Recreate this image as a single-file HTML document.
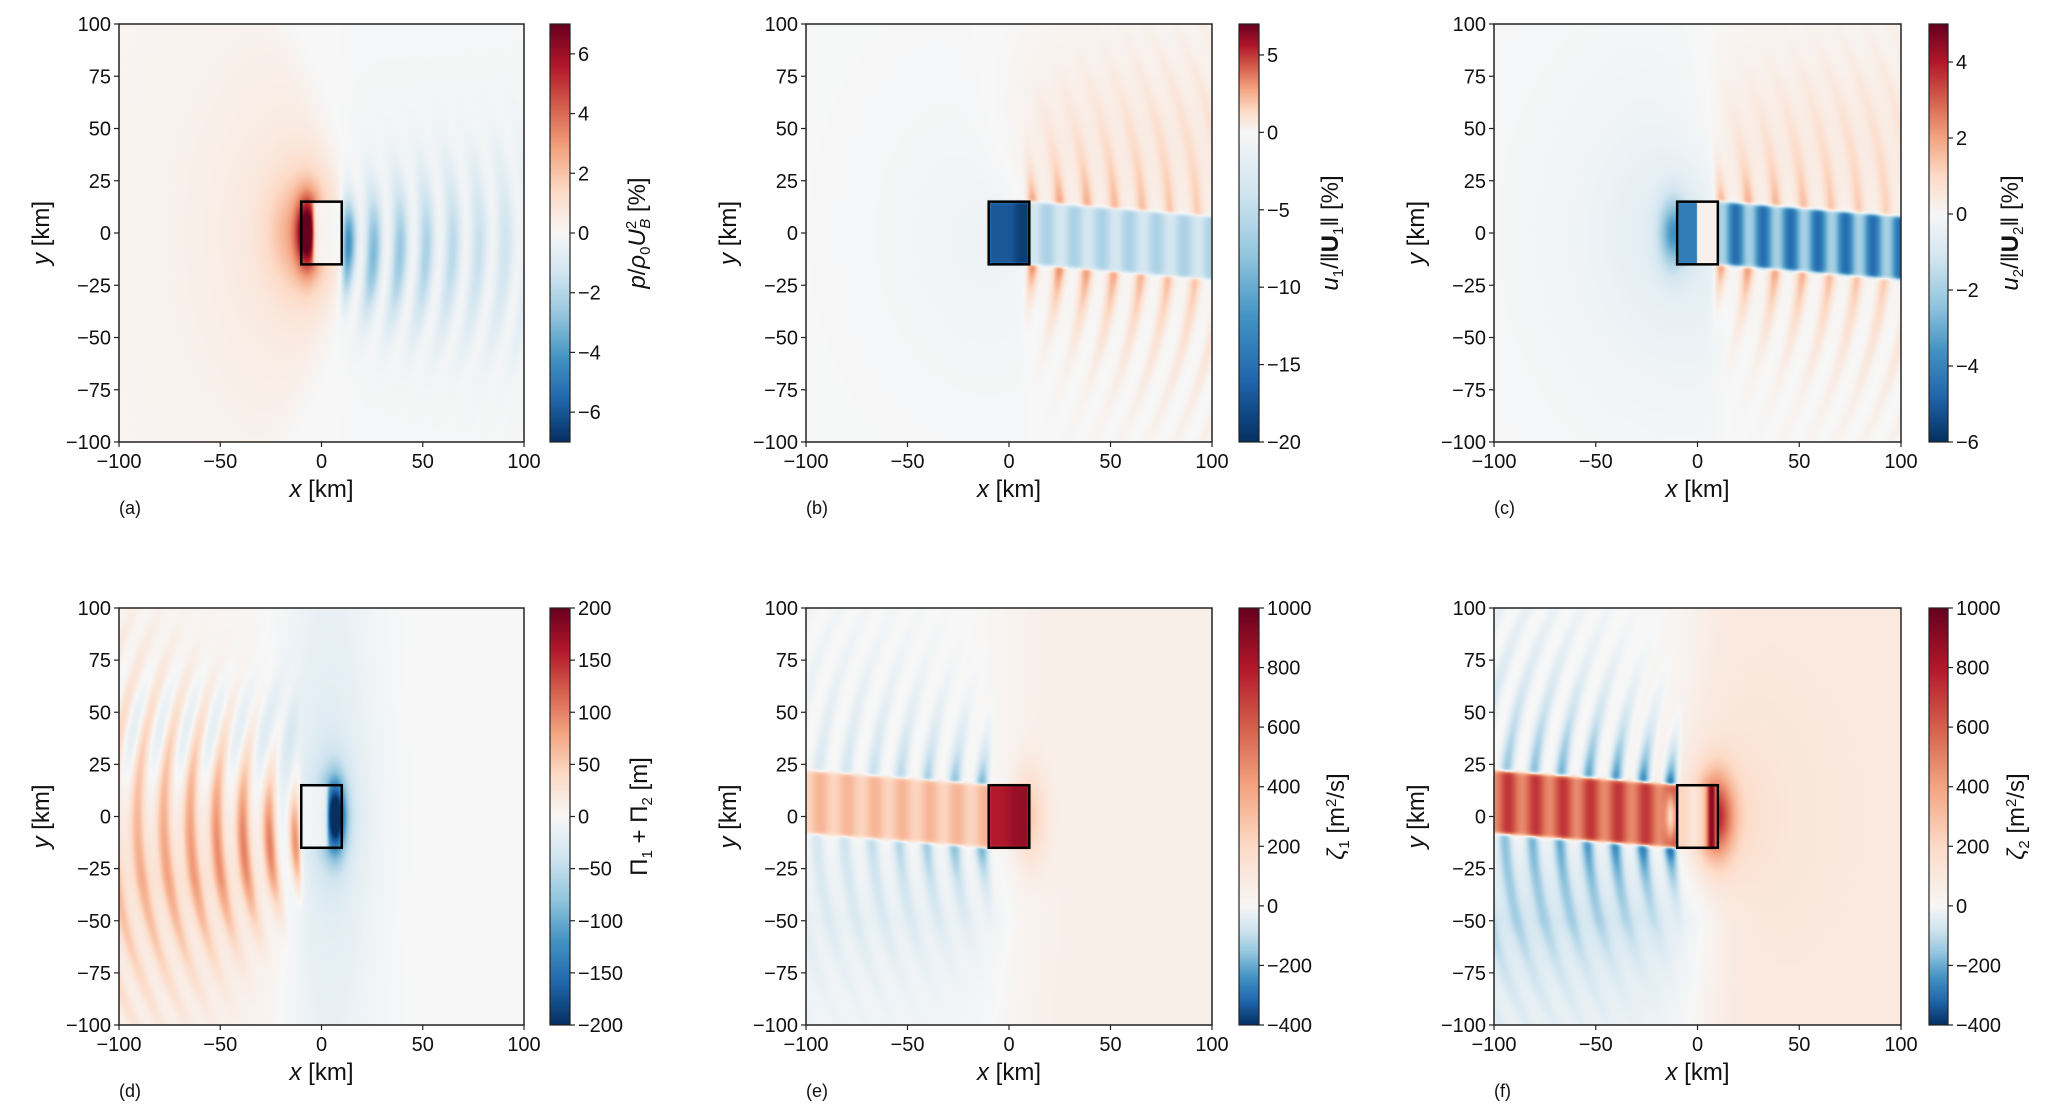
<!DOCTYPE html>
<html><head><meta charset="utf-8">
<style>
html,body{margin:0;padding:0;background:#fff;}
#fig{position:relative;width:2067px;height:1109px;overflow:hidden;font-family:"Liberation Sans",sans-serif;}
canvas{position:absolute;}
svg{position:absolute;left:0;top:0;}
</style></head>
<body>
<div id="fig"></div>
<script>
// ---- data ----
const xTicks=[-100,-50,0,50,100];
const yTicks=[-100,-75,-50,-25,0,25,50,75,100];
const panelLetters=["(a)","(b)","(c)","(d)","(e)","(f)"];
const cbarMin=[-7,-20,-6,-200,-400,-400];
const cbarMax=[7,7,5,200,1000,1000];
const cbarTicksA=[-6,-4,-2,0,2,4,6];
const cbarTicksB=[-20,-15,-10,-5,0,5];
const cbarTicksC=[-6,-4,-2,0,2,4];
const cbarTicksD=[-200,-150,-100,-50,0,50,100,150,200];
const cbarTicksE=[-400,-200,0,200,400,600,800,1000];
const cbarTicksF=[-400,-200,0,200,400,600,800,1000];
const cbarTicks=[cbarTicksA,cbarTicksB,cbarTicksC,cbarTicksD,cbarTicksE,cbarTicksF];
// feature amplitudes (normalised)
const boxAmp=[0.85,-0.85,-0.6,-0.85,0.85,0.9];
const bandAmp=[0,-0.25,-0.55,0.35,0.28,0.6];
const waveAmp=[-0.5,0.55,0.5,0.55,-0.55,-0.85];
const broadAmp=[0.14,-0.08,-0.2,-0.15,0.06,0.1];
const waveLen=[13,13.5,13.5,13,13.5,13.5];

// ---- layout ----
const colX=[[119,524,550,570,645],[806,1212,1239,1259,1338],[1494,1901,1929,1948,2018]];
const rowY=[[24,442],[608,1025]];
const fig=document.getElementById('fig');
const NS="http://www.w3.org/2000/svg";
const svg=document.createElementNS(NS,'svg');
svg.setAttribute('width',2067);svg.setAttribute('height',1109);



const stops=[[5,48,97],[33,102,172],[67,147,195],[146,197,222],[209,229,240],[247,247,247],[253,219,199],[244,165,130],[214,96,77],[178,24,43],[103,0,31]];
function cmap(t){t=Math.max(0,Math.min(1,t))*10;const i=Math.min(9,Math.floor(t)),f=t-i;const a=stops[i],b=stops[i+1];return [a[0]+(b[0]-a[0])*f,a[1]+(b[1]-a[1])*f,a[2]+(b[2]-a[2])*f];}
const sm=(e,w)=>0.5+0.5*Math.tanh(e/w);
const C=Math.PI*2;

function field(k,x,y){
  let v=0;const inBox=sm(x+10,0.6)*sm(10-x,0.6)*sm(y+15,0.6)*sm(15-y,0.6);
  const wl=waveLen[k];
  if(k===0){
    const r=Math.hypot((x+15)/1.0,y/1.7);
    v+=broadAmp[0]*Math.exp(-r/55)*sm(8-x-0.003*y*y,6);
    v+=boxAmp[0]*Math.exp(-((x+7)**2)/25-y*y/260);
    v+=0.3*Math.exp(-((x+9)**2)/250-y*y/800);
    if(x>4){const p=x+0.0025*y*y;const env=Math.exp(-((y+10)**2)/(400+18*x))*sm(x-10,2)*Math.exp(-(x-12)/70);
      v+=waveAmp[0]*env*(0.5+0.5*Math.cos(C*(p-13)/wl));}
    v+=-0.2*Math.exp(-((x-13)**2)/25-y*y/250)*sm(x-9,1);
    v*=(1-0.9*inBox*sm(x+4,1));
    v-=0.04*sm(x-10,8)*Math.exp(-Math.abs(y)/80);
  } else if(k===1||k===2){
    const yc=-0.08*Math.max(0,x-10),hw=15;
    const inBand=sm(x-10,0.6)*sm(hw-Math.abs(y-yc),1);
    const p=x+0.0025*y*y;
    v+=broadAmp[k]*Math.exp(-Math.hypot(x+5,y/1.3)/35)*sm(10-x,5);
    if(k===2)v+=-0.45*Math.exp(-((x+12)**2)/40-y*y/250);
    const d=Math.abs(y-yc)-hw;
    if(x>5&&d>0){const up=y>yc?0.75:1;const env=Math.exp(-d/(10+0.4*x))*Math.exp(-(x-10)/120)*up*sm(x-8,2);
      v+=waveAmp[k]*env*Math.pow(0.5+0.5*Math.cos(C*(p-12)/wl),2);}
    v+=0.08*sm(x,20)*Math.exp(-((y-40)**2)/3000);
    const bv=bandAmp[k]+(k===2?0.22:0.07)*Math.cos(C*(x-12)/wl);
    v=v*(1-inBand)+bv*inBand;
    const bx=k===1?boxAmp[1]-0.1*sm(x-3,2):(x<0?-0.7:0.05);
    v=v*(1-inBox)+bx*inBox;
  } else {
    const yc=-0.078*Math.min(0,x+10),hw=15;
    const inBand=sm(-10-x,0.6)*sm(hw-Math.abs(y-yc),1);
    const p=-x+0.0025*y*y;
    if(k===3){
      v+=-0.18*Math.exp(-((x-3)**2)/500)*Math.exp(-Math.abs(y)/120);
      v+=0.14*sm(-x-20,20)*Math.exp(-Math.abs(y+30)/70);
      v+=boxAmp[3]*Math.exp(-((x-7)**2)/20-y*y/260);
      v+=-0.25*Math.exp(-((x-5)**2)/80-y*y/600);
      if(x<-6){const env=Math.exp(-((y+12)**2)/(500+8*x*x/10))*sm(-x-10,1.5)*Math.exp((x+10)/100);
        v+=waveAmp[3]*env*Math.pow(0.5+0.5*Math.cos(C*(p-13)/wl),1.5);
        const envU=Math.exp(-((y-40)**2)/700)*sm(-x-12,3);v+=-0.14*envU*(0.5+0.5*Math.cos(C*(p-19)/wl));}
      v*=(1-0.85*inBox*sm(3-x,1));
    } else {
      v+=broadAmp[k]*sm(x,15);
      v+=(k===5?-0.18:-0.07)*sm(-x,20)*Math.exp(-Math.abs(y+50)/50)*sm(-y-10,10);
      if(k===5){v+=0.55*Math.exp(-((x-9)**2)/70-y*y/400);v+=0.2*Math.exp(-Math.hypot(x-8,y/1.3)/18);}
      else v+=0.2*Math.exp(-((x-10)**2)/60-y*y/500);
      const d=Math.abs(y-yc)-hw;
      if(x<-5&&d>0){const env=Math.exp(-d/(10+0.4*Math.abs(x)))*Math.exp((x+10)/(k===5?110:70))*sm(-x-8,2);
        v+=waveAmp[k]*env*Math.pow(0.5+0.5*Math.cos(C*(p-14)/wl),1.6);}
      const bv=bandAmp[k]+(k===5?0.12:0.06)*Math.cos(C*(x+12)/wl);
      v=v*(1-inBand)+bv*inBand;
      const bx=k===4?0.8+0.08*sm(x,3):0.22+0.7*Math.exp(-((x-7)**2)/6)-0.1*Math.exp(-((x+2)**2)/8);
      v=v*(1-inBox)+bx*inBox;
      if(k===5)v+=-0.5*Math.exp(-((x+13)**2)/6-y*y/120);
    }
  }
  return Math.max(-1,Math.min(1,v));
}

function el(tag,attrs,parent){const e=document.createElementNS(NS,tag);for(const a in attrs)e.setAttribute(a,attrs[a]);(parent||svg).appendChild(e);return e;}

const cbLabels=[
 '<tspan font-style="italic">p</tspan>/<tspan font-style="italic">ρ</tspan><tspan font-size="15" dy="5">0</tspan><tspan dy="-5" font-style="italic">U</tspan><tspan font-size="15" dy="-9">2</tspan><tspan font-size="15" font-style="italic" dy="14" dx="-8">B</tspan><tspan dy="-5"> [%]</tspan>',
 '<tspan font-style="italic">u</tspan><tspan font-size="15" dy="5">1</tspan><tspan dy="-5">/‖</tspan><tspan font-weight="bold">U</tspan><tspan font-size="15" dy="5">1</tspan><tspan dy="-5">‖ [%]</tspan>',
 '<tspan font-style="italic">u</tspan><tspan font-size="15" dy="5">2</tspan><tspan dy="-5">/‖</tspan><tspan font-weight="bold">U</tspan><tspan font-size="15" dy="5">2</tspan><tspan dy="-5">‖ [%]</tspan>',
 'Π<tspan font-size="15" dy="5">1</tspan><tspan dy="-5"> + Π</tspan><tspan font-size="15" dy="5">2</tspan><tspan dy="-5">  [m]</tspan>',
 '<tspan font-style="italic">ζ</tspan><tspan font-size="15" dy="5">1</tspan><tspan dy="-5">  [m</tspan><tspan font-size="15" dy="-8">2</tspan><tspan dy="8">/s]</tspan>',
 '<tspan font-style="italic">ζ</tspan><tspan font-size="15" dy="5">2</tspan><tspan dy="-5">  [m</tspan><tspan font-size="15" dy="-8">2</tspan><tspan dy="8">/s]</tspan>'];

for(let k=0;k<6;k++){
  const [L,R,cL,cR,lx]=colX[k%3];const [T,B]=rowY[Math.floor(k/3)];
  const W=R-L,H=B-T;
  const sx=v=>L+(v+100)/200*W, sy=v=>B-(v+100)/200*H;
  const cv=document.createElement('canvas');cv.width=W;cv.height=H;
  cv.style.left=L+'px';cv.style.top=T+'px';
  
  
  fig.appendChild(cv);
  const ctx=cv.getContext('2d');const img=ctx.createImageData(W,H);
  for(let j=0;j<H;j++){const y=100-(j+0.5)/H*200;for(let i=0;i<W;i++){const x=-100+(i+0.5)/W*200;
    const c=cmap(0.5+0.5*field(k,x,y));const o=(j*W+i)*4;img.data[o]=c[0];img.data[o+1]=c[1];img.data[o+2]=c[2];img.data[o+3]=255;}}
  ctx.putImageData(img,0,0);
  const vmin=cbarMin[k],vmax=cbarMax[k];
  const cb=document.createElement('canvas');cb.width=cR-cL;cb.height=H;cb.style.left=cL+'px';cb.style.top=T+'px';
  
  
  fig.appendChild(cb);
  const cc=cb.getContext('2d');
  for(let j=0;j<H;j++){const val=vmax-(j+0.5)/H*(vmax-vmin);const n=val>=0?val/vmax:-val/vmin;const c=cmap(0.5+0.5*n);
    cc.fillStyle=`rgb(${c[0]|0},${c[1]|0},${c[2]|0})`;cc.fillRect(0,j,cR-cL,1);}
  const g=el('g',{});
  
  
  const frame=el('rect',{x:L,y:T,width:W,height:H,fill:'none',stroke:'#222','stroke-width':1.5},g);
  
  
  const box=el('rect',{x:sx(-10),y:sy(15),width:sx(10)-sx(-10),height:sy(-15)-sy(15),fill:'none',stroke:'#000','stroke-width':2.5},g);
  
  
  const cbf=el('rect',{x:cL,y:T,width:cR-cL,height:H,fill:'none',stroke:'#222','stroke-width':1.2},g);
  
  
  for(const t of xTicks){el('line',{x1:sx(t),x2:sx(t),y1:B,y2:B+5,stroke:'#222','stroke-width':1.2},g);
    const tx=el('text',{x:sx(t),y:B+26,'font-size':20,'text-anchor':'middle',fill:'#111'},g);tx.textContent=t<0?'−'+(-t):t;
    
    }
  for(const t of yTicks){el('line',{x1:L-5,x2:L,y1:sy(t),y2:sy(t),stroke:'#222','stroke-width':1.2},g);
    const tx=el('text',{x:L-8,y:sy(t)+7,'font-size':20,'text-anchor':'end',fill:'#111'},g);tx.textContent=t<0?'−'+(-t):t;
    
    }
  for(const t of cbarTicks[k]){const yy=T+(vmax-t)/(vmax-vmin)*H;
    el('line',{x1:cR,x2:cR+5,y1:yy,y2:yy,stroke:'#222','stroke-width':1.2},g);
    const tx=el('text',{x:cR+8,y:yy+7,'font-size':20,fill:'#111'},g);tx.textContent=t<0?'−'+(-t):t;
    
    }
  const xl=el('text',{x:(L+R)/2,y:B+55,'font-size':24,'text-anchor':'middle',fill:'#111'},g);
  xl.innerHTML='<tspan font-style="italic">x</tspan> [km]';
  
  
  const ycx=L-70,ycy=(T+B)/2;
  const yl=el('text',{x:ycx,y:ycy,'font-size':24,'text-anchor':'middle',fill:'#111',transform:`rotate(-90 ${ycx} ${ycy})`},g);
  yl.innerHTML='<tspan font-style="italic">y</tspan> [km]';
  
  
  const lcx=lx+(k===3?2:0)+(k>=4?6:0);
  const cl=el('text',{x:lcx,y:ycy,'font-size':24,'text-anchor':'middle',fill:'#111',transform:`rotate(-90 ${lcx} ${ycy})`},g);
  cl.innerHTML=cbLabels[k];
  
  
  const pl=el('text',{x:L,y:B+72,'font-size':18,fill:'#111'},g);pl.textContent=panelLetters[k];
  
  
}
fig.appendChild(svg);
</script>
</body></html>
